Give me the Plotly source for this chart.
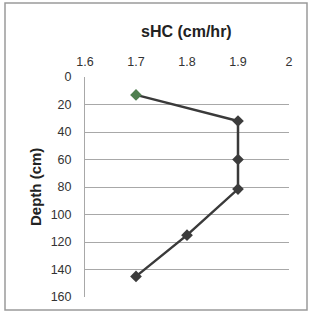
import plotly.graph_objects as go

shc = [1.7, 1.9, 1.9, 1.9, 1.8, 1.7]
depth = [13, 32, 60, 81.5, 115, 145]
x_ticks = [1.6, 1.7, 1.8, 1.9, 2.0]
x_labels = ["1.6", "1.7", "1.8", "1.9", "2"]
y_ticks = [0, 20, 40, 60, 80, 100, 120, 140, 160]

W, H = 311, 315
L, R, T, B = 85, 22, 77, 18
pw, ph = W - L - R, H - T - B

def px(x):
    return (x - L) / pw

def py(y):
    return (H - B - y) / ph

marker_colors = ["#4f7f4f"] + ["#3c3c3c"] * (len(shc) - 1)

fig = go.Figure()
fig.add_trace(go.Scatter(
    x=shc, y=depth, mode="lines+markers",
    line=dict(color="#3a3a3a", width=2.5),
    marker=dict(symbol="diamond", size=9, color=marker_colors),
    showlegend=False,
))

font = "Liberation Sans, Arial, sans-serif"
fig.update_layout(
    width=W, height=H,
    margin=dict(l=L, r=R, t=T, b=B),
    paper_bgcolor="white", plot_bgcolor="white",
    font=dict(family=font, size=12, color="#333333"),
    xaxis=dict(
        side="top", range=[1.6, 2.0], tickvals=x_ticks, ticktext=x_labels,
        showgrid=False, zeroline=False, showline=False, ticks="",
        ticklabelstandoff=8, tickfont=dict(size=12.5, color="#333333"),
    ),
    yaxis=dict(
        range=[160, 0], tickvals=y_ticks, showgrid=True, gridcolor="#a8a8a8",
        gridwidth=1, zeroline=False, showline=True, linecolor="#a8a8a8",
        linewidth=1, ticks="", ticklabelstandoff=10,
        tickfont=dict(size=12.5, color="#333333"),
    ),
    annotations=[
        dict(text="<b>sHC (cm/hr)</b>", x=px(186), y=py(32), xref="paper", yref="paper",
             showarrow=False, font=dict(size=16, color="#222222", family=font),
             xanchor="center", yanchor="middle"),
        dict(text="<b>Depth (cm)</b>", x=px(35), y=py(187), xref="paper", yref="paper",
             showarrow=False, textangle=-90, font=dict(size=15, color="#222222", family=font),
             xanchor="center", yanchor="middle"),
    ],
    shapes=[
        dict(type="rect", xref="paper", yref="paper",
             x0=px(5), x1=px(307), y0=py(310), y1=py(3),
             line=dict(color="#9a9a9a", width=1.5), layer="below"),
    ],
)

fig.write_html(
    "out.html",
    config={"displayModeBar": False},
    post_script="document.body.style.margin='0';document.body.style.overflow='hidden';",
)
